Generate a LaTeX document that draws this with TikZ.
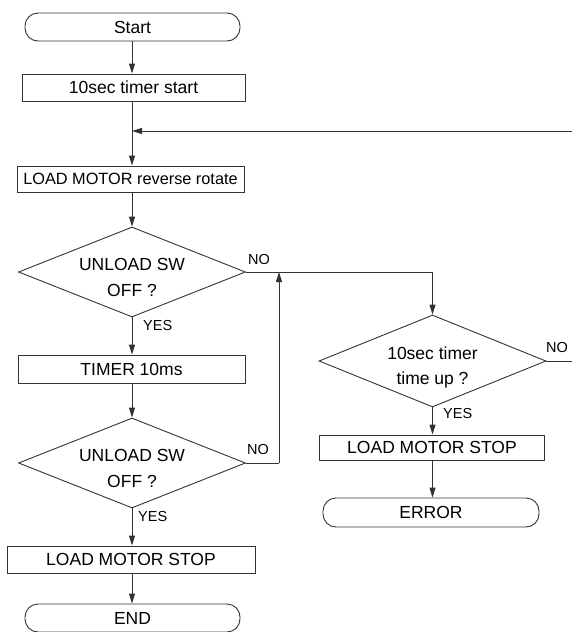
\documentclass[tikz,border=0pt]{standalone}
\usepackage{fontspec}
\setmainfont{Liberation Sans}
\usetikzlibrary{arrows.meta,shapes.geometric}
\begin{document}
\begin{tikzpicture}[x=1pt,y=-1pt,
  ln/.style={draw=black!80, line width=0.9pt},
  arr/.style={ln,-{Triangle[length=10pt,width=6pt]}},
  box/.style={ln,rectangle,inner sep=0pt,minimum height=27pt,font=\fontsize{17.5}{21}\selectfont},
  term/.style={box,rounded corners=13pt,minimum height=28pt},
  dia/.style={ln,diamond,inner sep=0pt,minimum width=227pt,minimum height=90pt},
  dtxt/.style={font=\fontsize{17.5}{26}\selectfont,align=center,inner sep=0pt},
  lbl/.style={font=\fontsize{14.5}{17}\selectfont,inner sep=0pt}]
\useasboundingbox (0,0) rectangle (572,632);

% nodes
\node[term,minimum width=215pt] (start) at (132.5,27) {Start};
\node[box,minimum width=223pt] (t10) at (133.5,87.5) {10sec timer start};
\coordinate (m) at (132,131);
\coordinate (r1) at (572,131);
\node[box,minimum width=227pt,minimum height=26pt,font=\fontsize{16.3}{20}\selectfont] (rev) at (130.5,179) {LOAD MOTOR reverse rotate};
\node[dia] (d1) at (132,272) {};
\node[dtxt] (d1t) at (132,277.5) {UNLOAD SW\\OFF ?};
\node[box,minimum width=227pt,minimum height=28pt] (tim) at (131.5,369) {TIMER 10ms};
\node[dia] (d2) at (132,463) {};
\node[dtxt] (d2t) at (132,468) {UNLOAD SW\\OFF ?};
\node[box,minimum width=248pt] (stop1) at (131,559.5) {LOAD MOTOR STOP};
\node[term,minimum width=215pt] (end) at (132.5,618) {END};

\node[dia,minimum height=92pt] (d3) at (432.5,361) {};
\node[dtxt,font=\fontsize{17.5}{25}\selectfont] (d3t) at (432.5,367) {10sec timer\\time up ?};
\node[box,minimum width=225pt,minimum height=25pt] (stop2) at (432,447.5) {LOAD MOTOR STOP};
\node[term,minimum width=216pt,minimum height=29pt] (err) at (431,512.5) {ERROR};

\coordinate (j1) at (432.5,272);
\coordinate (j2) at (279,272);
\coordinate (j3) at (279,463);
\coordinate (r2) at (572,361);

% connectors
\draw[arr] (start.south -| m) -- (m |- t10.north);
\draw[ln] (m |- t10.south) -- (m);
\draw[arr] (m) -- (m |- rev.north);
\draw[arr] (r1) -- (m);
\draw[arr] (m |- rev.south) -- (d1.north);
\draw[arr] (d1.south) -- (d1.south |- tim.north);
\draw[arr] (d1.south |- tim.south) -- (d2.north);
\draw[arr] (d2.south) -- (d2.south |- stop1.north);
\draw[arr] (d2.south |- stop1.south) -- (d2.south |- end.north);
\draw[ln] (d2.east) -- (j3);
\draw[arr] (j3) -- (j2);
\draw[ln] (d1.east) -- (j1);
\draw[arr] (j1) -- (d3.north);
\draw[arr] (d3.south) -- (d3.south |- stop2.north);
\draw[arr] (d3.south |- stop2.south) -- (d3.south |- err.north);
\draw[ln] (d3.east) -- (r2);

% labels
\node[lbl,anchor=west] (no1) at (248,260) {NO};
\node[lbl,anchor=west] (no2) at (247,450) {NO};
\node[lbl,anchor=west] (no3) at (546,348) {NO};
\node[lbl,anchor=west] (yes1) at (143,326) {YES};
\node[lbl,anchor=west] (yes2) at (138,517) {YES};
\node[lbl,anchor=west] (yes3) at (443,414) {YES};
\end{tikzpicture}
\end{document}
